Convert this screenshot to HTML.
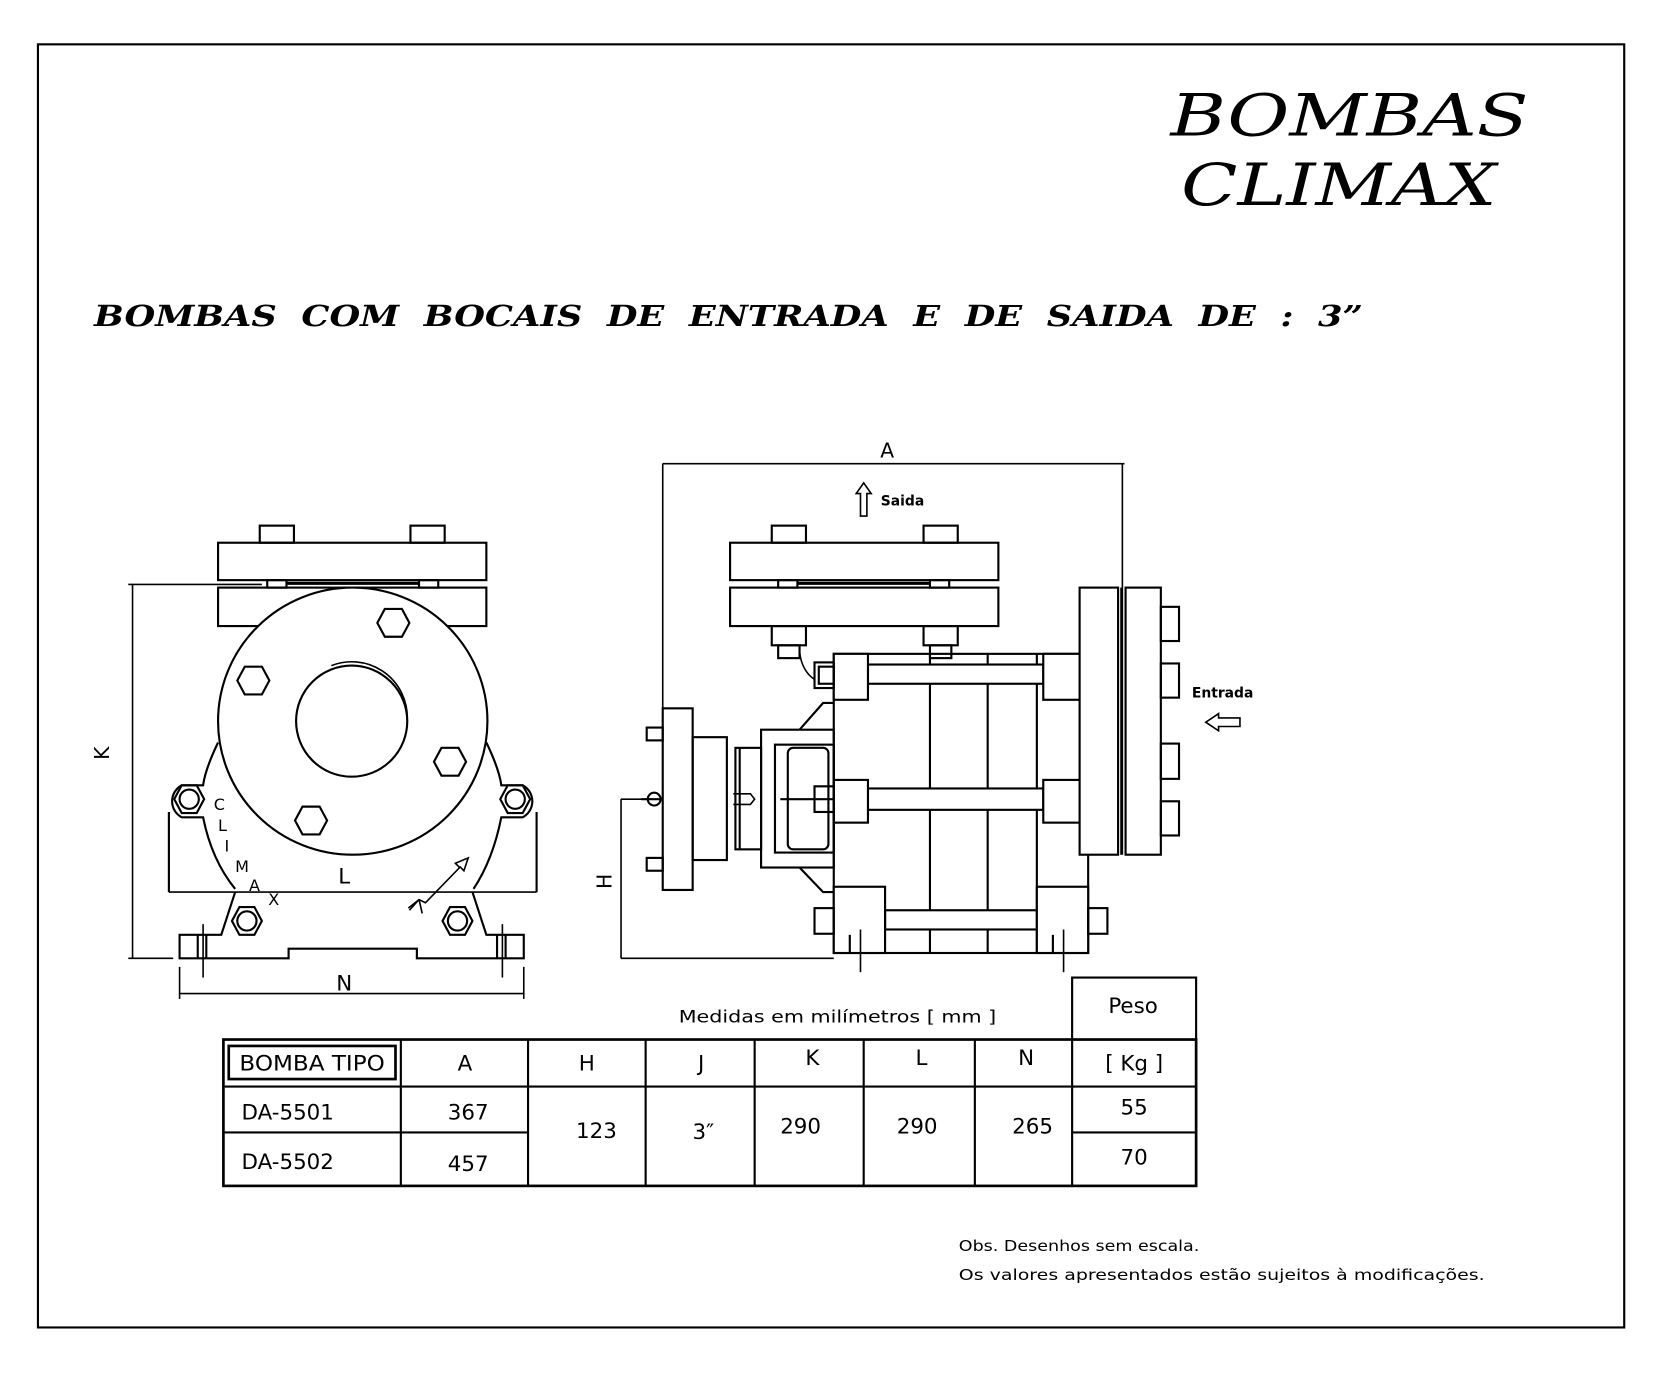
<!DOCTYPE html>
<html><head><meta charset="utf-8"><style>
html,body{margin:0;padding:0;background:#fff;}
svg{display:block;}
.s{font-family:"DejaVu Sans","Liberation Sans",sans-serif;}
</style></head><body>
<svg width="1675" height="1375" viewBox="0 0 1567 1287" preserveAspectRatio="none" xmlns="http://www.w3.org/2000/svg">
<rect x="0" y="0" width="1567" height="1287" fill="#fff"/>
<rect x="35.5" y="41.5" width="1484" height="1201" fill="none" stroke="#000" stroke-width="2"/>
<g font-family="'DejaVu Serif','Liberation Serif',serif" font-style="italic" fill="#000">
<text x="1095" y="127" font-size="54" textLength="335" lengthAdjust="spacingAndGlyphs">BOMBAS</text>
<text x="1105" y="192" font-size="54" textLength="295" lengthAdjust="spacingAndGlyphs">CLIMAX</text>
<text x="88" y="305" font-size="27" font-weight="bold" textLength="1187" lengthAdjust="spacingAndGlyphs" xml:space="preserve">BOMBAS  COM  BOCAIS  DE  ENTRADA  E  DE  SAIDA  DE  :  3”</text>
</g>
<g fill="none" stroke="#000" stroke-width="2">
<!-- LEFT VIEW -->
<rect x="243" y="492" width="32" height="16"/><rect x="384" y="492" width="32" height="16"/>
<rect x="204" y="508" width="251" height="35"/>
<rect x="250" y="543" width="18" height="7"/><rect x="392" y="543" width="18" height="7"/>
<line x1="268" y1="546" x2="392" y2="546" stroke-width="3"/>
<rect x="204" y="550" width="251" height="36"/>
<path d="M204,695 Q192,720 190,735 L170,735 A17,17 0 0,0 170,765 L190,765 Q198,805 220,832"/>
<path d="M455,695 Q467,720 469,735 L489,735 A17,17 0 0,1 489,765 L469,765 Q461,805 443,832"/>
<ellipse cx="330" cy="675" rx="126" ry="125" fill="#fff"/>
<circle cx="329" cy="675" r="52"/>
<path d="M310,623 A52,52 0 0,1 381,672" stroke-width="1.5"/>
<g stroke-width="2">
<polygon points="353,583 360,570 376,570 383,583 376,596 360,596" fill="#fff"/>
<polygon points="222,637 229,624 245,624 252,637 245,650 229,650" fill="#fff"/>
<polygon points="406,713 413,700 429,700 436,713 429,726 413,726" fill="#fff"/>
<polygon points="276,768 283,755 299,755 306,768 299,781 283,781" fill="#fff"/>
</g>
<polygon points="163,748 170,735 184,735 191,748 184,761 170,761"/><circle cx="177" cy="748" r="9"/>
<polygon points="468,748 475,735 489,735 496,748 489,761 475,761"/><circle cx="482" cy="748" r="9"/>
<line x1="158" y1="760" x2="158" y2="835"/><line x1="502" y1="760" x2="502" y2="835"/>
<line x1="158" y1="835" x2="502" y2="835" stroke-width="1.5"/>
<path d="M220,835 L207,875 L168,875 L168,897 L270,897 L270,888 L390,888 L390,897 L490,897 L490,875 L455,875 L442,835"/>
<polygon points="217,862 224,849 238,849 245,862 238,875 224,875"/><circle cx="231" cy="862" r="9"/>
<polygon points="414,862 421,849 435,849 442,862 435,875 421,875"/><circle cx="428" cy="862" r="9"/>
<line x1="185" y1="875" x2="185" y2="897"/><line x1="193" y1="875" x2="193" y2="897"/>
<line x1="473" y1="875" x2="473" y2="897"/><line x1="465" y1="875" x2="465" y2="897"/>
<line x1="190" y1="865" x2="190" y2="915" stroke-width="1.5"/><line x1="470" y1="865" x2="470" y2="915" stroke-width="1.5"/>
<path d="M383,852 L392,842 L398,845 L430,812 L426,808 L438,803 L434,815 L430,811 M392,842 L382,850 M392,842 L395,855" stroke-width="1.5"/>
<line x1="124" y1="547" x2="124" y2="897" stroke-width="1.5"/>
<line x1="120" y1="547" x2="245" y2="547" stroke-width="1.5"/>
<line x1="120" y1="897" x2="162" y2="897" stroke-width="1.5"/>
<line x1="168" y1="905" x2="168" y2="935" stroke-width="1.5"/><line x1="490" y1="905" x2="490" y2="935" stroke-width="1.5"/>
<line x1="168" y1="930" x2="490" y2="930" stroke-width="1.5"/>

<!-- RIGHT VIEW -->
<line x1="620" y1="434" x2="1052" y2="434" stroke-width="1.5"/>
<line x1="620" y1="434" x2="620" y2="663" stroke-width="1.5"/>
<line x1="1050" y1="434" x2="1050" y2="800" stroke-width="1.5"/>
<path d="M805,483 L805,462 L801,462 L808,452 L815,462 L811,462 L811,483 Z" stroke-width="1.5"/>
<rect x="722" y="492" width="32" height="16"/><rect x="864" y="492" width="32" height="16"/>
<rect x="683" y="508" width="251" height="35"/>
<rect x="728" y="543" width="18" height="7"/><rect x="870" y="543" width="18" height="7"/>
<line x1="746" y1="546" x2="870" y2="546" stroke-width="3"/>
<rect x="683" y="550" width="251" height="36"/>
<rect x="722" y="586" width="32" height="18"/><rect x="864" y="586" width="32" height="18"/>
<rect x="728" y="604" width="20" height="12"/><rect x="870" y="604" width="20" height="12"/>
<path d="M748,610 Q750,628 762,636" stroke-width="1.5"/>
<rect x="780" y="612" width="238" height="280"/>
<line x1="870" y1="612" x2="870" y2="892"/><line x1="924" y1="612" x2="924" y2="892"/><line x1="970" y1="612" x2="970" y2="892"/>
<rect x="812" y="622" width="164" height="18" fill="#fff"/>
<rect x="812" y="738" width="164" height="20" fill="#fff"/>
<rect x="828" y="852" width="142" height="18" fill="#fff"/>
<rect x="780" y="612" width="32" height="43" fill="#fff"/>
<rect x="780" y="730" width="32" height="40" fill="#fff"/>
<rect x="780" y="830" width="48" height="62" fill="#fff"/>
<rect x="976" y="612" width="42" height="43" fill="#fff"/>
<rect x="976" y="730" width="42" height="40" fill="#fff"/>
<rect x="970" y="830" width="48" height="62" fill="#fff"/>
<rect x="762" y="620" width="18" height="24"/><rect x="766" y="624" width="14" height="16"/>
<rect x="762" y="736" width="18" height="24"/>
<rect x="762" y="850" width="18" height="24"/>
<rect x="1018" y="736" width="18" height="24"/>
<rect x="1018" y="850" width="18" height="24"/>
<line x1="805" y1="870" x2="805" y2="910" stroke-width="1.5"/><line x1="795" y1="875" x2="795" y2="892"/>
<line x1="995" y1="870" x2="995" y2="910" stroke-width="1.5"/><line x1="985" y1="875" x2="985" y2="892"/>
<rect x="1010" y="550" width="36" height="250" fill="#fff"/>
<rect x="1053" y="550" width="33" height="250" fill="#fff"/>
<line x1="1049" y1="550" x2="1049" y2="800"/>
<rect x="1086" y="568" width="17" height="32"/><rect x="1086" y="621" width="17" height="32"/>
<rect x="1086" y="696" width="17" height="33"/><rect x="1086" y="750" width="17" height="32"/>
<path d="M1160,672 L1140,672 L1140,668 L1128,676 L1140,684 L1140,680 L1160,680 Z" stroke-width="1.5"/>
<rect x="620" y="663" width="28" height="170" fill="#fff"/>
<rect x="605" y="681" width="15" height="12"/><rect x="605" y="803" width="15" height="12"/>
<rect x="648" y="690" width="32" height="115"/>
<rect x="688" y="700" width="24" height="95"/>
<line x1="692" y1="700" x2="692" y2="795"/>
<rect x="712" y="683" width="68" height="129"/>
<rect x="725" y="697" width="55" height="101"/>
<rect x="737" y="700" width="38" height="95" rx="5"/>
<path d="M748,683 L770,658 L780,658" /><path d="M748,812 L770,835 L780,835"/>
<line x1="730" y1="748" x2="780" y2="748"/>
<circle cx="612" cy="748" r="6"/>
<line x1="600" y1="748" x2="620" y2="748"/>
<path d="M686,743 L702,743 L706,748 L702,753 L686,753" stroke-width="1.5"/>
<line x1="581" y1="748" x2="610" y2="748" stroke-width="1.5"/>
<line x1="581" y1="748" x2="581" y2="897" stroke-width="1.5"/>
<line x1="581" y1="897" x2="780" y2="897" stroke-width="1.5"/>

<!-- TABLE -->
<rect x="1003" y="915" width="116" height="58"/>
<rect x="209" y="973" width="910" height="137" stroke-width="2.5"/>
<line x1="209" y1="1017" x2="1119" y2="1017"/>
<line x1="209" y1="1060" x2="494" y2="1060"/>
<line x1="1003" y1="1060" x2="1119" y2="1060"/>
<line x1="375" y1="973" x2="375" y2="1110"/><line x1="494" y1="973" x2="494" y2="1110"/>
<line x1="604" y1="973" x2="604" y2="1110"/><line x1="706" y1="973" x2="706" y2="1110"/>
<line x1="808" y1="973" x2="808" y2="1110"/><line x1="912" y1="973" x2="912" y2="1110"/>
<line x1="1003" y1="973" x2="1003" y2="1110"/>
<rect x="214" y="979" width="156" height="31" stroke-width="2.5"/>
</g>
<g class="s" fill="#000">
<text x="830" y="428" font-size="19" text-anchor="middle">A</text>
<text x="824" y="473" font-size="13" font-weight="bold">Saida</text>
<text x="1115" y="653" font-size="13" font-weight="bold">Entrada</text>
<text x="322" y="827" font-size="20" text-anchor="middle">L</text>
<text x="322" y="927" font-size="20" text-anchor="middle">N</text>
<text x="0" y="0" font-size="19" transform="translate(102,705) rotate(-90)" text-anchor="middle">K</text>
<text x="0" y="0" font-size="19" transform="translate(572,825) rotate(-90)" text-anchor="middle">H</text>
<g font-size="15">
<text x="200" y="758">C</text><text x="204" y="778">L</text><text x="210" y="797">I</text>
<text x="220" y="816">M</text><text x="233" y="834">A</text><text x="251" y="847">X</text>
</g>
<text x="635" y="957" font-size="16" textLength="297" lengthAdjust="spacingAndGlyphs">Medidas em milímetros [ mm ]</text>
<g font-size="20" text-anchor="middle">
<text x="1060" y="948">Peso</text>
<text x="292" y="1002" textLength="136" lengthAdjust="spacingAndGlyphs">BOMBA TIPO</text>
<text x="435" y="1002">A</text><text x="549" y="1002">H</text><text x="656" y="1002">J</text>
<text x="760" y="997">K</text><text x="862" y="997">L</text><text x="960" y="997">N</text>
<text x="1061" y="1002">[ Kg ]</text>
<text x="438" y="1048">367</text><text x="438" y="1096">457</text>
<text x="558" y="1065">123</text><text x="658" y="1066">3″</text>
<text x="749" y="1061">290</text><text x="858" y="1061">290</text><text x="966" y="1061">265</text>
<text x="1061" y="1043">55</text><text x="1061" y="1090">70</text>
</g>
<text x="226" y="1048" font-size="20">DA-5501</text>
<text x="226" y="1094" font-size="20">DA-5502</text>
<text x="897" y="1171" font-size="14" textLength="225" lengthAdjust="spacingAndGlyphs">Obs. Desenhos sem escala.</text>
<text x="897" y="1198" font-size="14" textLength="492" lengthAdjust="spacingAndGlyphs">Os valores apresentados estão sujeitos à modificações.</text>
</g>
</svg>
</body></html>
